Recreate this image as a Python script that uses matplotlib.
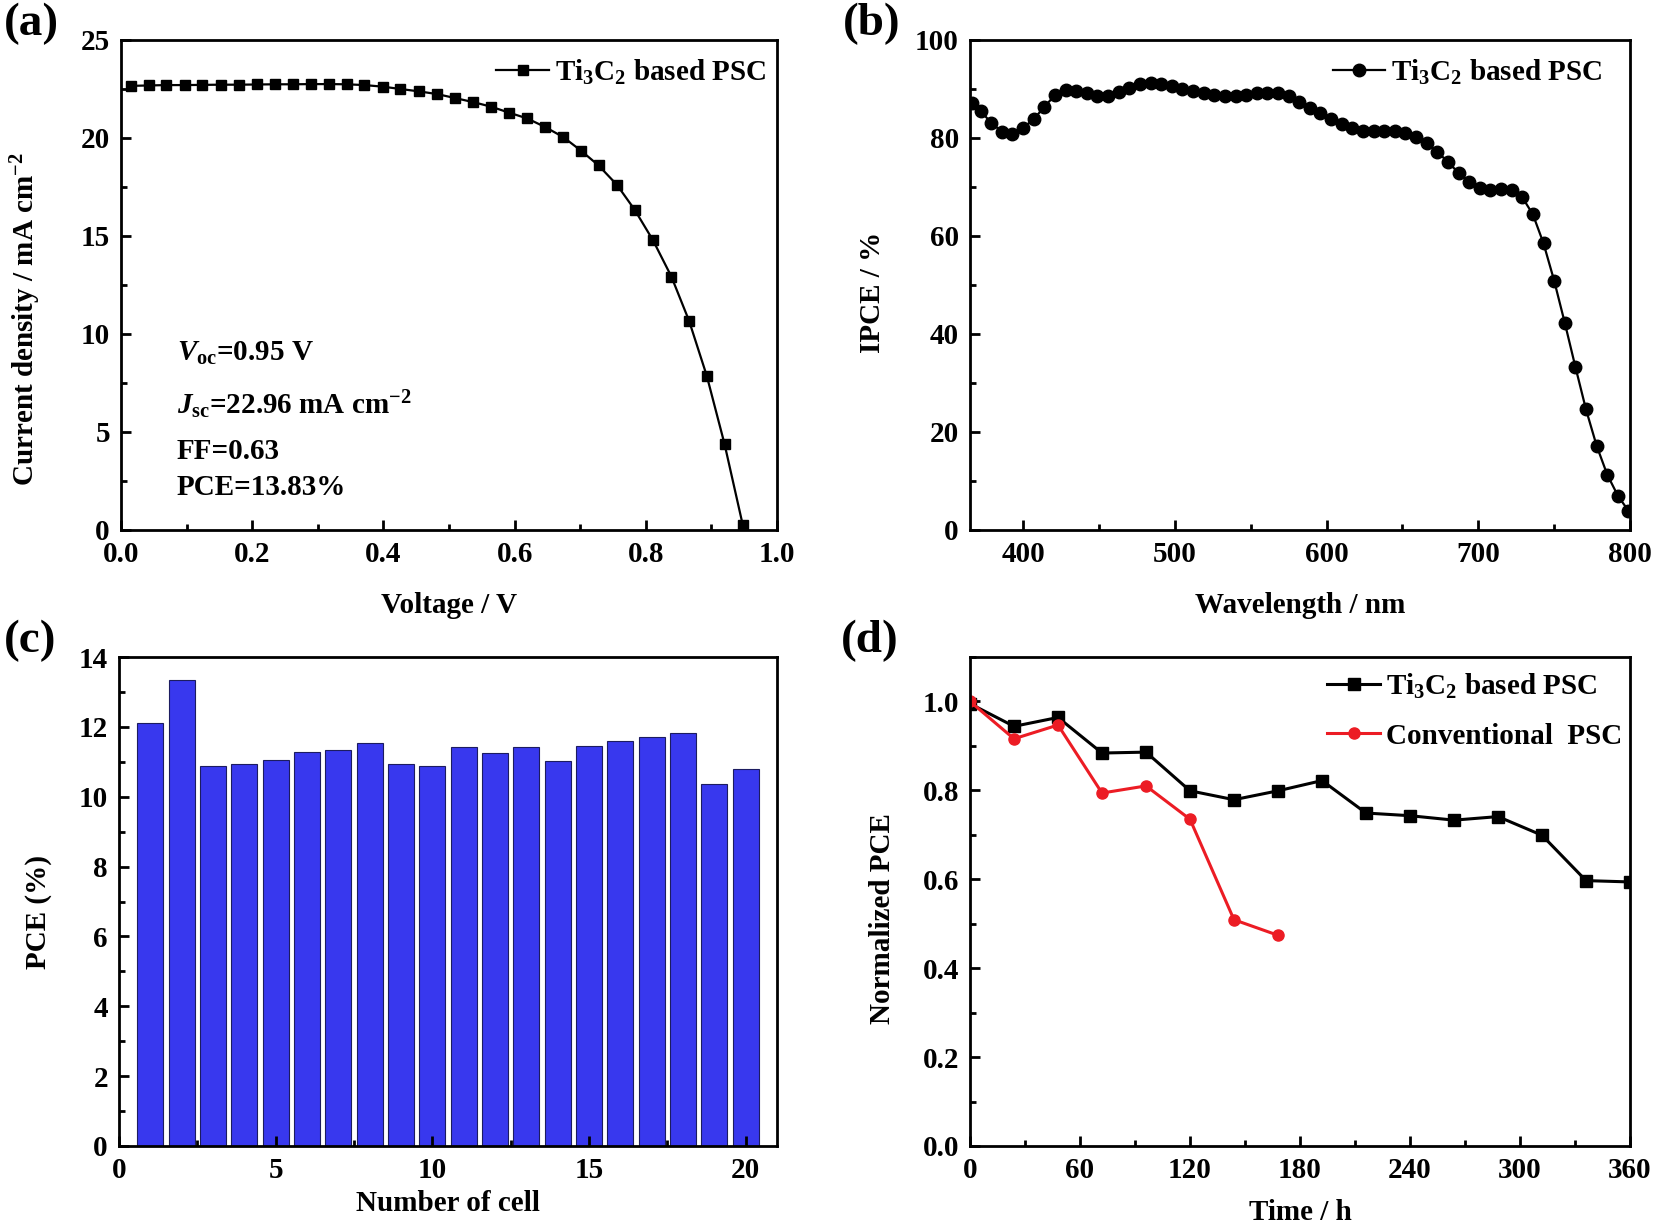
import matplotlib
matplotlib.use("Agg")
import matplotlib.pyplot as plt
from matplotlib.ticker import MultipleLocator

plt.rcParams['font.family'] = ['Liberation Serif', 'DejaVu Serif']
plt.rcParams['font.weight'] = 'bold'
plt.rcParams['axes.labelweight'] = 'bold'
plt.rcParams['mathtext.fontset'] = 'custom'
plt.rcParams['mathtext.rm'] = 'Liberation Serif:bold'
plt.rcParams['mathtext.it'] = 'Liberation Serif:bold:italic'
plt.rcParams['mathtext.bf'] = 'Liberation Serif:bold'
plt.rcParams['mathtext.default'] = 'regular'

# ---------------- data ----------------
# (a) J-V curve
voltage = [0.015, 0.042, 0.069, 0.097, 0.124, 0.152, 0.180, 0.207, 0.235, 0.262,
           0.289, 0.317, 0.344, 0.371, 0.399, 0.426, 0.454, 0.482, 0.509, 0.537,
           0.564, 0.591, 0.619, 0.646, 0.674, 0.701, 0.728, 0.756, 0.783, 0.811,
           0.839, 0.866, 0.893, 0.920, 0.948]
current = [22.66, 22.68, 22.70, 22.70, 22.71, 22.72, 22.72, 22.73, 22.74, 22.74,
           22.75, 22.75, 22.74, 22.70, 22.62, 22.50, 22.38, 22.24, 22.04, 21.83,
           21.60, 21.30, 21.00, 20.57, 20.05, 19.36, 18.60, 17.61, 16.34, 14.78,
           12.93, 10.67, 7.86, 4.39, 0.23]

# (b) IPCE spectrum
wavelength = [366, 372, 379, 386, 393, 400, 407, 414, 421, 428, 435, 442, 449, 456,
              463, 470, 477, 484, 491, 498, 505, 512, 519, 526, 533, 540, 547, 554,
              561, 568, 575, 582, 589, 596, 603, 610, 617, 624, 631, 638, 645, 652,
              659, 666, 673, 680, 687, 694, 701, 708, 715, 722, 729, 736, 743, 750,
              757, 764, 771, 778, 785, 792, 799]
ipce = [87.1, 85.5, 83.1, 81.3, 80.9, 82.1, 83.8, 86.4, 88.7, 89.7, 89.5, 89.1, 88.5, 88.6,
        89.4, 90.3, 91.0, 91.2, 91.1, 90.7, 90.1, 89.5, 89.1, 88.7, 88.5, 88.6, 88.8, 89.1,
        89.2, 89.1, 88.5, 87.4, 86.2, 85.0, 83.9, 82.8, 82.0, 81.5, 81.4, 81.4, 81.4, 81.1,
        80.3, 79.0, 77.2, 75.1, 72.9, 71.1, 69.8, 69.3, 69.5, 69.3, 67.9, 64.4, 58.5, 50.9,
        42.3, 33.3, 24.6, 17.2, 11.3, 7.0, 3.9]

# (c) PCE histogram of cells
cell_number = list(range(1, 21))
cell_pce = [12.12, 13.33, 10.89, 10.95, 11.06, 11.28, 11.34, 11.54, 10.94, 10.88,
            11.42, 11.26, 11.42, 11.01, 11.46, 11.59, 11.72, 11.83, 10.36, 10.80]

# (d) stability
time_ti3c2 = [0, 24, 48, 72, 96, 120, 144, 168, 192, 216, 240, 264, 288, 312, 336, 360]
pce_ti3c2 = [0.995, 0.944, 0.964, 0.884, 0.886, 0.799, 0.779, 0.799, 0.822, 0.749,
             0.743, 0.733, 0.741, 0.699, 0.597, 0.594]
time_conv = [0, 24, 48, 72, 96, 120, 144, 168]
pce_conv = [1.0, 0.916, 0.947, 0.794, 0.810, 0.735, 0.509, 0.474]

legend_ti3c2 = 'Ti$_3$C$_2$ based PSC'
legend_conv = 'Conventional  PSC'

# ---------------- figure ----------------
W, H = 1654, 1228
fig = plt.figure(figsize=(W / 100, H / 100), dpi=100)

def px_axes(l, t, r, b):
    return fig.add_axes([l / W, 1 - b / H, (r - l) / W, (b - t) / H])

axA = px_axes(121, 40, 777, 530)
axB = px_axes(970, 40, 1630, 530)
axC = px_axes(119, 657, 777, 1146)
axD = px_axes(970, 657, 1630, 1146)

FS = 21

def style(ax):
    for s in ax.spines.values():
        s.set_linewidth(2.0)
    ax.tick_params(which='both', direction='in', top=False, right=False,
                   labelsize=FS, pad=8, width=2.0)
    ax.tick_params(which='major', length=7)
    ax.tick_params(which='minor', length=4)
    for lab in ax.get_xticklabels() + ax.get_yticklabels():
        lab.set_fontweight('bold')

# (a)
axA.plot(voltage, current, color='black', lw=1.6, marker='s', ms=7.5,
         label=legend_ti3c2)
axA.set_xlim(0, 1.0)
axA.set_ylim(0, 25)
axA.xaxis.set_major_locator(MultipleLocator(0.2))
axA.xaxis.set_minor_locator(MultipleLocator(0.1))
axA.yaxis.set_major_locator(MultipleLocator(5))
axA.yaxis.set_minor_locator(MultipleLocator(2.5))
axA.xaxis.set_major_formatter(plt.FormatStrFormatter('%.1f'))
axA.set_xlabel('Voltage / V', fontsize=FS, labelpad=17)
axA.set_ylabel('Current density / mA cm$^{-2}$', fontsize=FS, labelpad=27)
axA.yaxis.label.set_y(0.43)
axA.legend(loc='upper right', frameon=False, fontsize=FS, handlelength=1.8,
           handletextpad=0.2, borderaxespad=0.2, bbox_to_anchor=(1.01, 1.0))
axA.text(0.085, 9.0, r'$\mathit{V}_{\rm oc}$=0.95 V', fontsize=FS, va='center')
axA.text(0.085, 6.4, r'$\mathit{J}_{\rm sc}$=22.96 mA cm$^{-2}$', fontsize=FS, va='center')
axA.text(0.085, 4.0, 'FF=0.63', fontsize=FS, va='center')
axA.text(0.085, 2.15, 'PCE=13.83%', fontsize=FS, va='center')
style(axA)

# (b)
axB.plot(wavelength, ipce, color='black', lw=1.6, marker='o', ms=9,
         label=legend_ti3c2)
axB.set_xlim(365, 800)
axB.set_ylim(0, 100)
axB.xaxis.set_major_locator(MultipleLocator(100))
axB.xaxis.set_minor_locator(MultipleLocator(50))
axB.yaxis.set_major_locator(MultipleLocator(20))
axB.yaxis.set_minor_locator(MultipleLocator(10))
axB.set_xlabel('Wavelength / nm', fontsize=FS, labelpad=17)
axB.set_ylabel('IPCE / %', fontsize=FS, labelpad=21)
axB.yaxis.label.set_y(0.485)
axB.legend(loc='upper right', frameon=False, fontsize=FS, handlelength=1.8,
           handletextpad=0.2, borderaxespad=0.2, bbox_to_anchor=(0.985, 1.0))
style(axB)

# (c)
axC.bar(cell_number, cell_pce, width=0.83, color='#3838ee', edgecolor='#1c1c60',
        linewidth=0.8)
axC.set_xlim(0, 21)
axC.set_ylim(0, 14)
axC.xaxis.set_major_locator(MultipleLocator(5))
axC.xaxis.set_minor_locator(MultipleLocator(2.5))
axC.yaxis.set_major_locator(MultipleLocator(2))
axC.yaxis.set_minor_locator(MultipleLocator(1))
axC.set_xlabel('Number of cell', fontsize=FS, labelpad=4)
axC.set_ylabel('PCE (%)', fontsize=FS, labelpad=19)
axC.yaxis.label.set_y(0.478)
style(axC)

# (d)
axD.plot(time_ti3c2, pce_ti3c2, color='black', lw=2.2, marker='s', ms=8,
         label=legend_ti3c2)
axD.plot(time_conv, pce_conv, color='#ec1c24', lw=2.2, marker='o', ms=8,
         label=legend_conv)
axD.set_xlim(0, 360)
axD.set_ylim(0, 1.1)
axD.xaxis.set_major_locator(MultipleLocator(60))
axD.xaxis.set_minor_locator(MultipleLocator(30))
axD.yaxis.set_major_locator(MultipleLocator(0.2))
axD.yaxis.set_minor_locator(MultipleLocator(0.1))
axD.yaxis.set_major_formatter(plt.FormatStrFormatter('%.1f'))
axD.set_xlabel('Time / h', fontsize=FS, labelpad=11)
axD.set_ylabel('Normalized PCE', fontsize=FS, labelpad=19)
axD.yaxis.label.set_y(0.465)
axD.legend(loc='upper right', frameon=False, fontsize=FS, handlelength=1.8,
           handletextpad=0.2, borderaxespad=0.1, labelspacing=0.75,
           bbox_to_anchor=(1.01, 1.0))
style(axD)

# panel labels
fig.text(4 / W, 1 - 24 / H, '(a)', fontsize=34, va='center', ha='left')
fig.text(843 / W, 1 - 24 / H, '(b)', fontsize=34, va='center', ha='left')
fig.text(4 / W, 1 - 641 / H, '(c)', fontsize=34, va='center', ha='left')
fig.text(841 / W, 1 - 641 / H, '(d)', fontsize=34, va='center', ha='left')

fig.savefig('out.png', dpi=100)
